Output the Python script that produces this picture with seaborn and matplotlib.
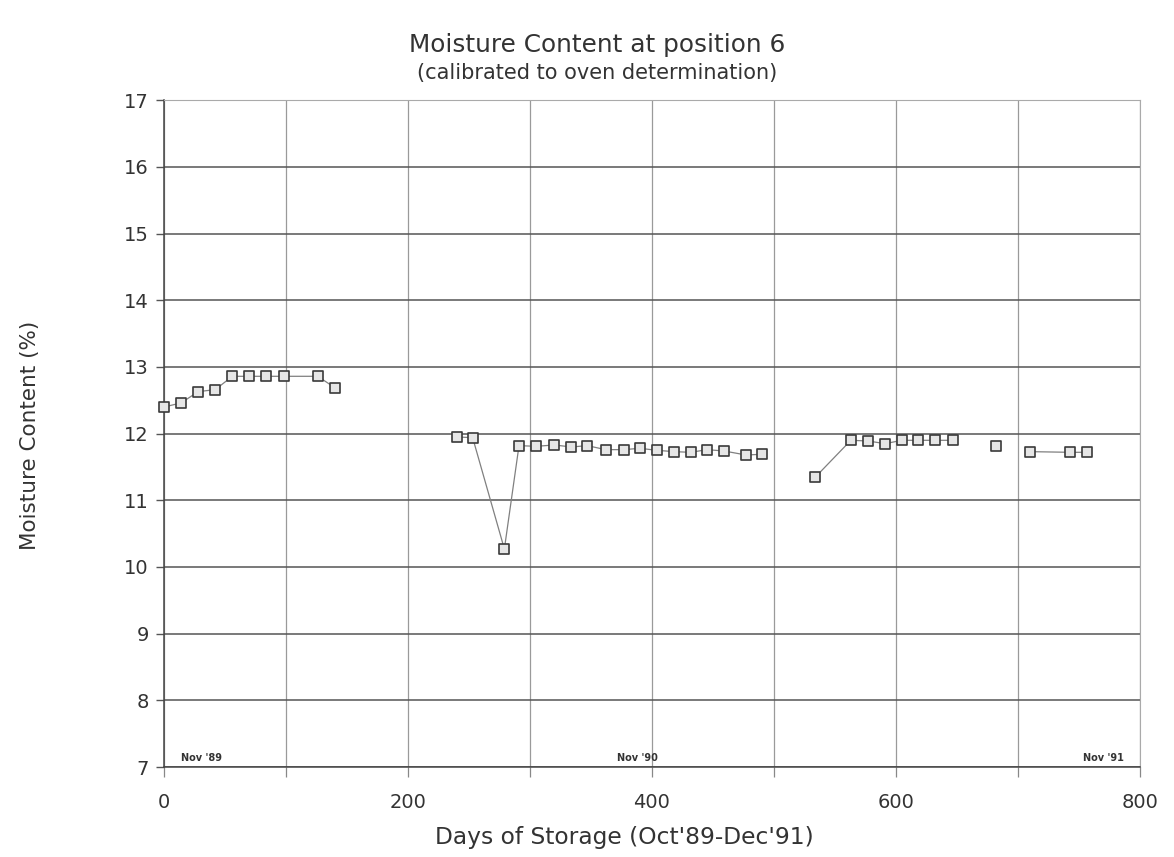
import matplotlib
matplotlib.use("Agg")
import matplotlib.pyplot as plt
import seaborn as sns
import pandas as pd

days = [0, 14, 28, 42, 56, 70, 84, 98, 126, 140,
        240, 253, 279, 291, 305, 320, 334, 347, 362, 377, 390, 404, 418, 432, 445, 459, 477, 490,
        534, 563, 577, 591, 605, 618, 632, 647,
        682,
        710, 743, 757]
moisture = [12.40, 12.46, 12.63, 12.66, 12.86, 12.86, 12.86, 12.86, 12.86, 12.69,
            11.95, 11.94, 10.27, 11.82, 11.81, 11.83, 11.80, 11.82, 11.76, 11.76, 11.78, 11.75, 11.73, 11.72, 11.76, 11.74, 11.68, 11.69,
            11.35, 11.90, 11.89, 11.85, 11.90, 11.90, 11.90, 11.90,
            11.82,
            11.73, 11.72, 11.72]
segment = [1]*10 + [2]*18 + [3]*8 + [4]*1 + [5]*3

notes = ["Nov '89", "Nov '90", "Nov '91"]
note_days = [31, 388, 770]

df = pd.DataFrame({"day": days, "mc": moisture, "seg": segment})

sns.set_style("white")
plt.rcParams['font.family'] = ['DejaVu Sans']

fig = plt.figure(figsize=(11.74, 8.57), dpi=100)
ax = fig.add_axes([0.1397, 0.105, 0.8313, 0.778])

sns.lineplot(data=df, x="day", y="mc", units="seg", estimator=None,
             color="#808080", linewidth=0.9, ax=ax, legend=False, zorder=2)
sns.scatterplot(data=df, x="day", y="mc", marker="s", s=62,
                facecolor="#e6e6e6", edgecolor="#3a3a3a", linewidth=1.2,
                ax=ax, legend=False, zorder=3, clip_on=False)

ax.set_xlim(0, 800)
ax.set_ylim(7, 17)
ax.set_xticks(range(0, 801, 200))
ax.set_xticks(range(100, 801, 200), minor=True)
ax.set_yticks(range(7, 18))
ax.grid(which="major", axis="y", color="#555555", linewidth=1.1)
ax.grid(which="both", axis="x", color="#9a9a9a", linewidth=0.9)
ax.tick_params(axis="x", which="both", bottom=True, length=7, width=0.9, color="#888888",
               direction="out", labelsize=14, labelcolor="#333333", pad=12)
ax.tick_params(axis="y", which="both", left=True, length=6, width=1.0, color="#555555",
               direction="out", labelsize=14, labelcolor="#333333", pad=5)
for side in ["left", "bottom"]:
    ax.spines[side].set_color("#444444")
    ax.spines[side].set_linewidth(1.1)
for side in ["top", "right"]:
    ax.spines[side].set_color("#aaaaaa")
    ax.spines[side].set_linewidth(0.8)
ax.set_axisbelow(True)

for t, d in zip(notes, note_days):
    ax.text(d, 7.06, t, fontsize=7, fontweight="bold", ha="center", va="bottom", color="#333333")

ax.set_xlabel("Days of Storage (Oct'89-Dec'91)", fontsize=16.8, color="#333333", va="center")
ax.xaxis.set_label_coords(0.472, -0.106)
ax.set_ylabel("Moisture Content (%)", fontsize=15.5, color="#333333", va="center")
ax.yaxis.set_label_coords(-0.137, 0.498)

fig.text(0.509, 0.9475, "Moisture Content at position 6", ha="center", va="center", fontsize=17.8, color="#333333")
fig.text(0.509, 0.915, "(calibrated to oven determination)", ha="center", va="center", fontsize=15, color="#333333")

fig.savefig("out.png", dpi=100)
